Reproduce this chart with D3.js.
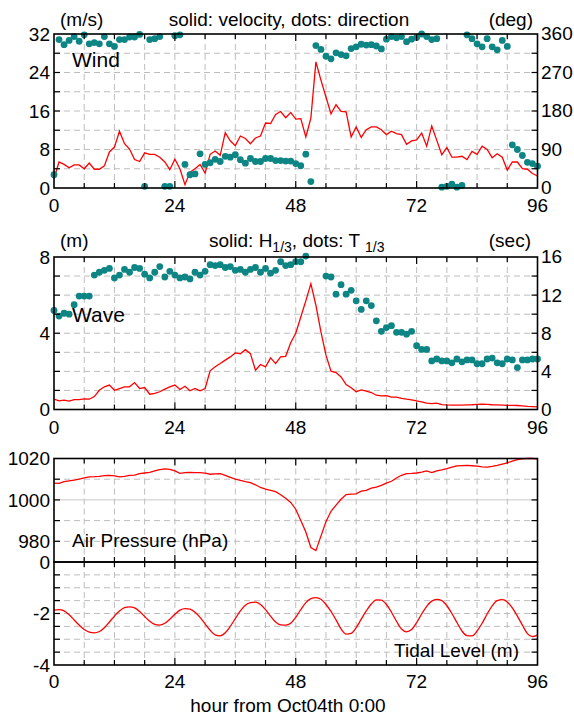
<!DOCTYPE html>
<html>
<head>
<meta charset="utf-8">
<script src="https://cdn.jsdelivr.net/npm/d3@7"></script>
<style>
  body { margin: 0; background: #fff; }
  svg text { font-family: "Liberation Sans", Arial, sans-serif; fill: #000; }
</style>
</head>
<body>
<svg id="chart" width="574" height="717"></svg>
<script>
// hours 0..96, one reading per hour
var hours = d3.range(0, 97);
var hourTicks = [0, 24, 48, 72, 96];

var windSpeed = [2.0, 5.4, 4.9, 4.2, 4.8, 4.8, 4.0, 5.2, 3.9, 3.9, 4.6, 7.5, 8.5, 11.8, 9.2, 8.1, 5.9, 5.5, 7.3, 7.0,
  7.0, 6.4, 5.4, 3.8, 6.0, 4.0, 0.7, 3.3, 4.0, 4.9, 3.1, 7.0, 7.7, 6.8, 11.5, 9.8, 8.8, 10.8, 10.3, 9.2,
  10.4, 10.8, 13.5, 13.4, 15.3, 15.9, 14.6, 15.7, 14.3, 14.4, 10.6, 14.5, 26.2, 22.4, 18.9, 15.4, 17.3, 15.9, 15.8, 10.6,
  12.7, 10.5, 12.1, 12.7, 12.7, 12.1, 11.1, 11.8, 11.3, 11.1, 9.1, 9.8, 10.0, 11.4, 8.7, 12.9, 9.9, 6.9, 8.4, 6.4,
  6.4, 6.6, 5.9, 7.6, 7.0, 8.7, 8.0, 6.3, 7.1, 6.4, 3.7, 5.4, 5.4, 4.0, 3.9, 3.0, 2.5];

var windDir = [31, 347, 335, 345, 354, 343, 358, 337, 340, 337, 354, 337, 331, 347, 347, 353, 353, 359, 4, 347,
  349, 354, 4, 4, 356, 358, 55, 31, 33, 80, 55, 59, 67, 62, 74, 72, 78, 66, 58, 69,
  62, 62, 69, 69, 64, 64, 63, 63, 57, 52, 79, 15, 333, 324, 308, 302, 316, 312, 309, 326,
  330, 336, 334, 335, 332, 325, 348, 354, 351, 354, 342, 348, 352, 360, 354, 347, 349, 2, 4, 9,
  2, 6, 358, 349, 337, 330, 349, 330, 323, 345, 331, 101, 90, 76, 60, 57, 51];

var waveHeight = [0.54, 0.45, 0.49, 0.44, 0.52, 0.52, 0.56, 0.54, 0.68, 1.01, 1.19, 1.28, 1.01, 1.10, 1.19, 1.19, 1.41, 1.10, 1.15, 0.80,
  0.84, 0.93, 1.07, 1.19, 1.28, 1.05, 1.22, 0.98, 1.10, 0.98, 1.10, 2.03, 2.24, 2.41, 2.59, 2.76, 2.97, 2.92, 3.14, 2.93,
  2.06, 2.36, 2.24, 2.71, 2.41, 2.76, 2.79, 3.50, 4.00, 4.85, 5.70, 6.60, 5.47, 4.07, 2.85, 2.01, 1.94, 1.71, 1.31, 1.14,
  0.93, 1.03, 0.96, 0.89, 0.75, 0.72, 0.73, 0.65, 0.65, 0.58, 0.54, 0.51, 0.45, 0.40, 0.33, 0.31, 0.33, 0.26, 0.24, 0.23,
  0.23, 0.23, 0.24, 0.25, 0.27, 0.28, 0.27, 0.25, 0.24, 0.23, 0.22, 0.22, 0.21, 0.19, 0.16, 0.15, 0.14];

var wavePeriod = [10.4, 9.8, 10.1, 10.0, 11.0, 11.9, 11.9, 11.9, 14.1, 14.4, 14.6, 14.8, 13.8, 14.1, 14.7, 14.4, 14.9, 14.8, 14.2, 13.8,
  14.4, 15.0, 13.9, 14.5, 14.1, 13.8, 13.9, 13.7, 14.4, 14.1, 14.5, 15.2, 15.1, 15.2, 14.9, 15.0, 14.6, 14.7, 14.4, 14.7,
  14.9, 14.4, 14.8, 14.3, 14.6, 15.5, 15.1, 15.2, 15.5, 15.5, 16.1, null, null, null, 14.0, 13.9, 12.1, 13.1, 12.1, 12.5,
  11.4, 10.5, 11.4, 10.9, 9.3, 8.2, 8.6, 8.8, 8.1, 8.1, 7.9, 8.2, 6.7, 6.3, 6.3, 5.1, 5.3, 5.1, 5.1, 4.9,
  5.3, 5.0, 5.2, 5.2, 4.8, 4.8, 5.3, 5.4, 4.9, 4.8, 5.3, 5.2, 4.4, 5.2, 5.2, 5.3, 5.3];

var airPressure = [1008.1, 1008.0, 1008.8, 1009.2, 1009.6, 1010.0, 1010.6, 1011.1, 1011.2, 1011.4, 1011.7, 1011.8, 1011.6, 1011.1, 1011.4, 1011.8, 1012.0, 1012.7, 1013.0, 1013.3,
  1014.0, 1014.6, 1015.0, 1014.7, 1014.0, 1012.8, 1013.2, 1013.3, 1013.2, 1013.2, 1012.9, 1012.4, 1012.6, 1012.7, 1011.8, 1010.9, 1010.0, 1009.4, 1008.8, 1008.3,
  1007.3, 1006.0, 1005.2, 1004.6, 1004.0, 1002.5, 1000.8, 998.8, 995.5, 990.0, 984.5, 977.0, 975.5, 982.5, 989.5, 994.5, 997.5, 1000.3, 1002.6, 1002.8,
  1002.9, 1004.2, 1004.6, 1005.7, 1006.2, 1007.0, 1008.1, 1009.0, 1010.6, 1011.9, 1012.7, 1012.8, 1013.0, 1013.4, 1014.0, 1013.2, 1014.0, 1014.5, 1015.1, 1015.8,
  1016.4, 1016.6, 1016.7, 1016.5, 1016.3, 1016.0, 1015.8, 1016.2, 1016.7, 1017.3, 1017.9, 1018.7, 1019.5, 1019.8, 1020.0, 1020.0, 1019.7];

var tidalLevel = [-1.87, -1.85, -1.90, -2.05, -2.25, -2.45, -2.62, -2.72, -2.75, -2.70, -2.55, -2.33, -2.10, -1.90, -1.77, -1.74, -1.78, -1.92, -2.12, -2.30,
  -2.42, -2.45, -2.38, -2.22, -2.03, -1.87, -1.81, -1.83, -1.95, -2.15, -2.40, -2.65, -2.83, -2.87, -2.75, -2.50, -2.20, -1.90, -1.68, -1.58,
  -1.56, -1.65, -1.85, -2.10, -2.33, -2.44, -2.45, -2.38, -2.15, -1.85, -1.58, -1.42, -1.38, -1.45, -1.65, -1.92, -2.25, -2.60, -2.80, -2.77,
  -2.55, -2.22, -1.90, -1.63, -1.47, -1.48, -1.65, -1.95, -2.30, -2.60, -2.71, -2.62, -2.35, -2.02, -1.72, -1.52, -1.45, -1.50, -1.70, -2.00,
  -2.35, -2.68, -2.86, -2.87, -2.68, -2.38, -2.02, -1.70, -1.50, -1.46, -1.55, -1.78, -2.10, -2.45, -2.78, -2.90, -2.84];

var windTicks = [0, 8, 16, 24, 32];
var dirTicks = [0, 90, 180, 270, 360];
var waveTicks = [0, 4, 8];
var periodTicks = [0, 4, 8, 12, 16];
var pressureTicks = [980, 1000, 1020];
var tideTicks = [-4, -2, 0];

var RED = '#ff0000';
var TEAL = '#0e8585';
var GRID = '#bdbdbd';
var FS = 19;

var svg = d3.select('#chart');
var x = d3.scaleLinear().domain([0, 96]).range([54, 537.5]);

function drawVGrid(g, y0, y1) {
  g.selectAll(null).data(d3.range(6, 96, 6)).enter().append('line')
    .attr('x1', function (d) { return x(d); }).attr('x2', function (d) { return x(d); })
    .attr('y1', y0).attr('y2', y1)
    .attr('stroke', GRID).attr('stroke-dasharray', '6,4');
}

function drawHGrid(g, y, values, solidValue) {
  g.selectAll(null).data(values).enter().append('line')
    .attr('x1', x(0)).attr('x2', x(96))
    .attr('y1', function (d) { return y(d); }).attr('y2', function (d) { return y(d); })
    .attr('stroke', function (d) { return d === solidValue ? '#c8c8c8' : GRID; })
    .attr('stroke-dasharray', function (d) { return d === solidValue ? null : '6,4'; });
}

// inward tick marks along top and bottom edges
function drawXTicks(g, y0, y1) {
  var t = d3.range(6, 96, 6);
  g.selectAll(null).data(t).enter().append('line')
    .attr('x1', function (d) { return x(d); }).attr('x2', function (d) { return x(d); })
    .attr('y1', y1).attr('y2', function (d) { return y1 - (d % 24 === 0 ? 7 : 5); })
    .attr('stroke', '#000').attr('stroke-width', 1.2);
  g.selectAll(null).data(t).enter().append('line')
    .attr('x1', function (d) { return x(d); }).attr('x2', function (d) { return x(d); })
    .attr('y1', y0).attr('y2', function (d) { return y0 + (d % 24 === 0 ? 7 : 5); })
    .attr('stroke', '#000').attr('stroke-width', 1.2);
}

function drawYTicks(g, y, values) {
  g.selectAll(null).data(values).enter().append('line')
    .attr('x1', x(0)).attr('x2', x(0) + 6)
    .attr('y1', function (d) { return y(d); }).attr('y2', function (d) { return y(d); })
    .attr('stroke', '#000').attr('stroke-width', 1.2);
  g.selectAll(null).data(values).enter().append('line')
    .attr('x1', x(96)).attr('x2', x(96) - 6)
    .attr('y1', function (d) { return y(d); }).attr('y2', function (d) { return y(d); })
    .attr('stroke', '#000').attr('stroke-width', 1.2);
}

function leftLabels(g, y, values) {
  g.selectAll(null).data(values).enter().append('text')
    .attr('x', 50).attr('y', function (d) { return y(d); })
    .attr('dy', '0.36em').attr('text-anchor', 'end')
    .style('font-size', FS + 'px')
    .text(function (d) { return d; });
}

function rightLabels(g, y, values) {
  g.selectAll(null).data(values).enter().append('text')
    .attr('x', 541).attr('y', function (d) { return y(d); })
    .attr('dy', '0.34em')
    .style('font-size', FS + 'px')
    .text(function (d) { return d; });
}

function bottomLabels(g, yPos) {
  g.selectAll(null).data(hourTicks).enter().append('text')
    .attr('x', function (d) { return x(d); }).attr('y', yPos)
    .attr('text-anchor', 'middle')
    .style('font-size', FS + 'px')
    .text(function (d) { return d; });
}

function frame(g, y0, y1) {
  g.append('rect')
    .attr('x', x(0)).attr('y', y0)
    .attr('width', x(96) - x(0)).attr('height', y1 - y0)
    .attr('fill', 'none').attr('stroke', '#000').attr('stroke-width', 1.6);
}

function redLine(g, y, values, curve) {
  var line = d3.line()
    .defined(function (d) { return d != null; })
    .x(function (d, i) { return x(hours[i]); })
    .y(function (d) { return y(d); })
    .curve(curve || d3.curveLinear);
  g.append('path').datum(values)
    .attr('d', line)
    .attr('fill', 'none').attr('stroke', RED).attr('stroke-width', 1.3);
}

function dots(g, y, values) {
  var pts = [];
  values.forEach(function (v, i) { if (v != null) pts.push({ h: hours[i], v: v }); });
  g.selectAll(null).data(pts).enter().append('circle')
    .attr('cx', function (d) { return x(d.h); })
    .attr('cy', function (d) { return y(d.v); })
    .attr('r', 3.4)
    .attr('fill', TEAL);
}

// ---- Wind panel ----
function drawWind() {
  var top = 34, bottom = 188;
  var g = svg.append('g');
  var y = d3.scaleLinear().domain([0, 32]).range([bottom, top]);
  var yDir = d3.scaleLinear().domain([0, 360]).range([bottom, top]);
  drawVGrid(g, top, bottom);
  drawHGrid(g, y, d3.range(4, 32, 4));
  redLine(g, y, windSpeed);
  dots(g, yDir, windDir);
  frame(g, top, bottom);
  drawXTicks(g, top, bottom);
  drawYTicks(g, y, d3.range(4, 32, 4));
  leftLabels(g, y, windTicks);
  rightLabels(g, yDir, dirTicks);
  bottomLabels(g, bottom + 24);
  g.append('text').attr('x', 60).attr('y', top - 8).style('font-size', FS + 'px').text('(m/s)');
  g.append('text').attr('x', 533).attr('y', top - 8).attr('text-anchor', 'end').style('font-size', FS + 'px').text('(deg)');
  g.append('text').attr('x', 289).attr('y', top - 8).attr('text-anchor', 'middle').style('font-size', FS + 'px')
    .text('solid: velocity, dots: direction');
  g.append('text').attr('x', 72).attr('y', 67).style('font-size', '21px').text('Wind');
}

// ---- Wave panel ----
function drawWave() {
  var top = 257, bottom = 409.5;
  var g = svg.append('g');
  var y = d3.scaleLinear().domain([0, 8]).range([bottom, top]);
  var yT = d3.scaleLinear().domain([0, 16]).range([bottom, top]);
  drawVGrid(g, top, bottom);
  drawHGrid(g, y, d3.range(1, 8, 1));
  redLine(g, y, waveHeight);
  dots(g, yT, wavePeriod);
  frame(g, top, bottom);
  drawXTicks(g, top, bottom);
  drawYTicks(g, y, d3.range(1, 8, 1));
  leftLabels(g, y, waveTicks);
  rightLabels(g, yT, periodTicks);
  bottomLabels(g, bottom + 24);
  g.append('text').attr('x', 60).attr('y', top - 10).style('font-size', FS + 'px').text('(m)');
  g.append('text').attr('x', 531).attr('y', top - 10).attr('text-anchor', 'end').style('font-size', FS + 'px').text('(sec)');
  var t = g.append('text').attr('x', 209).attr('y', top - 10).style('font-size', FS + 'px');
  t.append('tspan').text('solid: H');
  t.append('tspan').attr('dy', 5).style('font-size', '14px').text('1/3');
  t.append('tspan').attr('dy', -5).text(', dots: T ');
  t.append('tspan').attr('dy', 5).style('font-size', '14px').text('1/3');
  g.append('text').attr('x', 72).attr('y', 322).style('font-size', '21px').text('Wave');
}

// ---- Air pressure panel ----
function drawPressure() {
  var top = 458.5, bottom = 562;
  var g = svg.append('g');
  var y = d3.scaleLinear().domain([970, 1020]).range([bottom, top]);
  drawVGrid(g, top, bottom);
  drawHGrid(g, y, [980, 990, 1000, 1010], 1000);
  redLine(g, y, airPressure);
  frame(g, top, bottom);
  drawXTicks(g, top, bottom);
  drawYTicks(g, y, [980, 990, 1000, 1010]);
  leftLabels(g, y, pressureTicks);
  g.append('text').attr('x', 72).attr('y', 547).style('font-size', FS + 'px').text('Air Pressure (hPa)');
}

// ---- Tidal level panel ----
function drawTide() {
  var top = 562, bottom = 665;
  var g = svg.append('g');
  var y = d3.scaleLinear().domain([-4, 0]).range([bottom, top]);
  var minor = d3.range(-3.5, 0, 0.5);
  drawVGrid(g, top, bottom);
  drawHGrid(g, y, minor);
  redLine(g, y, tidalLevel, d3.curveMonotoneX);
  frame(g, top, bottom);
  drawXTicks(g, top, bottom);
  drawYTicks(g, y, minor);
  leftLabels(g, y, tideTicks);
  bottomLabels(g, bottom + 23);
  g.append('text').attr('x', 519).attr('y', 657).attr('text-anchor', 'end').style('font-size', FS + 'px').text('Tidal Level (m)');
  svg.append('text').attr('x', 288).attr('y', 712).attr('text-anchor', 'middle').style('font-size', FS + 'px')
    .text('hour from Oct04th 0:00');
}

drawWind();
drawWave();
drawPressure();
drawTide();
</script>
</body>
</html>
